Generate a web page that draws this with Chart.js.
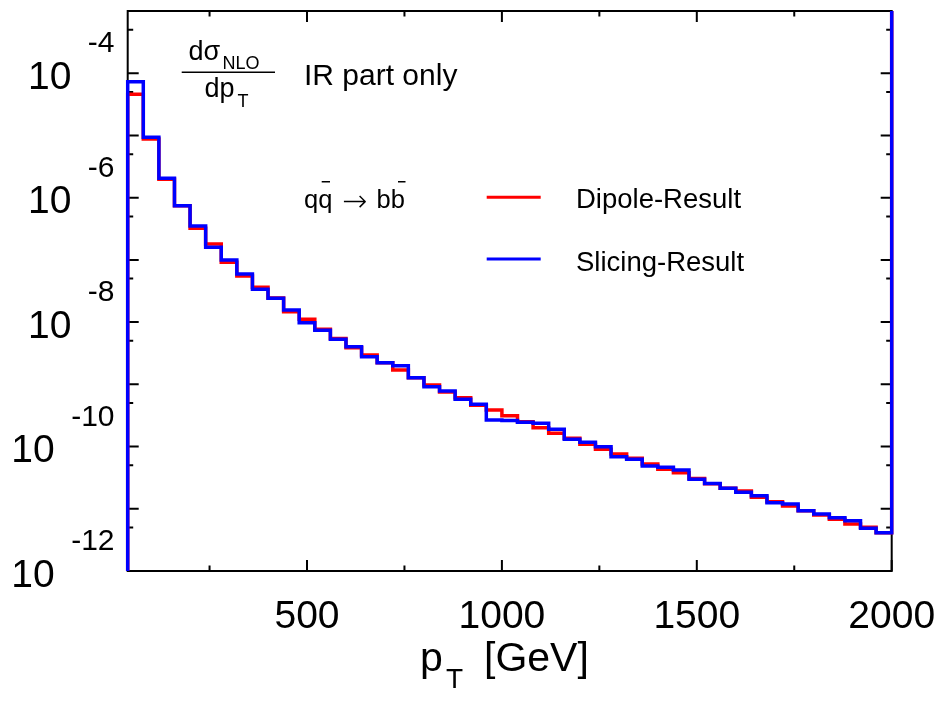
<!DOCTYPE html>
<html>
<head>
<meta charset="utf-8">
<script src="https://cdn.jsdelivr.net/npm/chart.js@4.4.1/dist/chart.umd.min.js"></script>
<style>
  body { margin: 0; background: #fff; }
</style>
</head>
<body>
<canvas id="chart" width="941" height="701"></canvas>
<script>
// Bin edges in GeV (40 GeV bins from 40 to 2000)
const pTEdges = [
  40, 80, 120, 160, 200, 240, 280, 320, 360, 400,
  440, 480, 520, 560, 600, 640, 680, 720, 760, 800,
  840, 880, 920, 960, 1000, 1040, 1080, 1120, 1160, 1200,
  1240, 1280, 1320, 1360, 1400, 1440, 1480, 1520, 1560, 1600,
  1640, 1680, 1720, 1760, 1800, 1840, 1880, 1920, 1960, 2000,
];

// dsigma/dpT per bin
const dipole = [
  4.58e-5, 8.77e-6, 1.97e-6, 7.43e-7, 3.22e-7, 1.80e-7, 9.14e-8, 5.51e-8, 3.62e-8, 2.43e-8,
  1.47e-8, 1.11e-8, 7.66e-9, 5.45e-9, 3.88e-9, 2.96e-9, 2.23e-9, 1.70e-9, 1.28e-9, 9.75e-10,
  7.53e-10, 6.10e-10, 4.60e-10, 3.87e-10, 3.13e-10, 2.51e-10, 2.01e-10, 1.63e-10, 1.36e-10, 1.09e-10,
  9.03e-11, 7.59e-11, 6.47e-11, 5.24e-11, 4.31e-11, 3.80e-11, 3.08e-11, 2.53e-11, 2.13e-11, 1.93e-11,
  1.53e-11, 1.30e-11, 1.11e-11, 9.31e-12, 7.94e-12, 6.77e-12, 5.69e-12, 5.04e-12, 4.12e-12,
];
const slicing = [
  7.31e-5, 9.33e-6, 2.05e-6, 7.43e-7, 3.51e-7, 1.59e-7, 9.96e-8, 5.93e-8, 3.37e-8, 2.41e-8,
  1.57e-8, 9.78e-9, 7.38e-9, 5.29e-9, 4.03e-9, 2.78e-9, 2.23e-9, 1.99e-9, 1.28e-9, 9.16e-10,
  7.81e-10, 5.74e-10, 4.78e-10, 2.67e-10, 2.62e-10, 2.45e-10, 2.36e-10, 1.89e-10, 1.31e-10, 1.17e-10,
  9.94e-11, 6.87e-11, 6.24e-11, 4.86e-11, 4.64e-11, 4.20e-11, 2.97e-11, 2.56e-11, 2.13e-11, 1.84e-11,
  1.62e-11, 1.25e-11, 1.19e-11, 9.31e-12, 8.24e-12, 7.18e-12, 6.43e-12, 4.85e-12, 4.12e-12,
];

// histogram walls: from below the axis at the left, up past the top at the right
const floorValue = 1e-13;
const ceilValue = 1e-2;

// Axes
const xRange = [40, 2000];
const yRange = [1e-12, 1e-3];
const xMajorTicks = [500, 1000, 1500, 2000];
const xMinorTicks = [250, 750, 1250, 1750];
const yMajorTicks = [1e-3, 1e-4, 1e-5, 1e-6, 1e-7, 1e-8, 1e-9, 1e-10, 1e-11, 1e-12];
const yMinorTicks = [5e-4, 5e-5, 5e-6, 5e-7, 5e-8, 5e-9, 5e-10, 5e-11, 5e-12];
const yLabelExps = ["-4", "-6", "-8", "-10", "-12"];

const FONT = '"Liberation Sans", Arial, Helvetica, sans-serif';

function toSteps(values) {
  const pts = [{ x: pTEdges[0], y: floorValue }];
  values.forEach((v, i) => pts.push({ x: pTEdges[i], y: v }));
  const last = pTEdges[pTEdges.length - 1];
  pts.push({ x: last, y: values[values.length - 1] });
  pts.push({ x: last, y: ceilValue });
  return pts;
}

// Frame, inward ticks, labels and annotations (gnuplot look)
const frame = {
  id: "frame",
  beforeDatasetsDraw(chart) {
    const { ctx, chartArea: a, scales: { x, y } } = chart;
    ctx.save();
    ctx.strokeStyle = "#000";
    ctx.lineWidth = 2;
    ctx.strokeRect(a.left, a.top, a.right - a.left, a.bottom - a.top);

    ctx.beginPath();
    const xTick = (v, len) => {
      const px = x.getPixelForValue(v);
      ctx.moveTo(px, a.bottom); ctx.lineTo(px, a.bottom - len);
      ctx.moveTo(px, a.top); ctx.lineTo(px, a.top + len);
    };
    const yTick = (v, len) => {
      const py = y.getPixelForValue(v);
      ctx.moveTo(a.left, py); ctx.lineTo(a.left + len, py);
      ctx.moveTo(a.right, py); ctx.lineTo(a.right - len, py);
    };
    xMajorTicks.forEach((v) => xTick(v, 11));
    xMinorTicks.forEach((v) => xTick(v, 5.5));
    yMajorTicks.forEach((v) => yTick(v, 11));
    yMinorTicks.forEach((v) => yTick(v, 5.5));
    ctx.stroke();
    ctx.restore();
  },
  afterDatasetsDraw(chart) {
    const { ctx, chartArea: a, scales: { x, y } } = chart;
    ctx.save();
    ctx.fillStyle = "#000";
    ctx.textBaseline = "alphabetic";

    // x tick labels
    ctx.font = "39px " + FONT;
    ctx.textAlign = "center";
    xMajorTicks.forEach((v) => {
      ctx.fillText(String(v), x.getPixelForValue(v), a.bottom + 56.5);
    });

    // y tick labels: 10^exp
    yLabelExps.forEach((e) => {
      const py = y.getPixelForValue(Math.pow(10, Number(e)));
      ctx.textAlign = "right";
      ctx.font = "30px " + FONT;
      const w = ctx.measureText(e).width;
      ctx.fillText(e, 114.5, py - 21);
      ctx.font = "39px " + FONT;
      ctx.fillText("10", 114.5 - w - 16.5, py + 15.5);
    });

    // x title: p_T  [GeV]
    ctx.textAlign = "left";
    ctx.font = "41px " + FONT;
    ctx.fillText("p", 420, 671);
    ctx.font = "28px " + FONT;
    ctx.fillText("T", 446, 688);
    ctx.font = "41px " + FONT;
    ctx.fillText("[GeV]", 484, 671);

    // fraction d sigma_NLO / d p_T
    ctx.font = "27px " + FONT;
    ctx.fillText("d\u03c3", 188.5, 60);
    ctx.font = "18px " + FONT;
    ctx.fillText("NLO", 222.5, 69.3);
    ctx.font = "27px " + FONT;
    ctx.fillText("dp", 204.5, 96.7);
    ctx.font = "18px " + FONT;
    ctx.fillText("T", 237.5, 107.3);
    ctx.lineWidth = 1.5;
    ctx.beginPath();
    ctx.moveTo(181.7, 72.3); ctx.lineTo(275, 72.3);
    ctx.stroke();

    ctx.font = "30px " + FONT;
    ctx.fillText("IR part only", 304, 85);

    // process q qbar -> b bbar
    ctx.font = "25.5px " + FONT;
    ctx.fillText("qq", 304, 208.3);
    ctx.fillText("bb", 376.5, 208.3);
    ctx.font = '200 30px "DejaVu Sans", sans-serif';
    ctx.fillText("\u2192", 342, 210.5);
    ctx.lineWidth = 1.5;
    ctx.beginPath();
    ctx.moveTo(321.7, 181.7); ctx.lineTo(330, 181.7);
    ctx.moveTo(398, 181.7); ctx.lineTo(405.5, 181.7);
    ctx.stroke();

    // legend
    const legend = [
      { text: "Dipole-Result", color: "#ff0000", line: 197.3, base: 208.3 },
      { text: "Slicing-Result", color: "#0000ff", line: 259, base: 271 },
    ];
    legend.forEach((l) => {
      ctx.strokeStyle = l.color;
      ctx.lineWidth = 3;
      ctx.beginPath();
      ctx.moveTo(486.7, l.line); ctx.lineTo(540.7, l.line);
      ctx.stroke();
      ctx.font = "27.5px " + FONT;
      ctx.fillText(l.text, 576, l.base);
    });
    ctx.restore();
  },
};

const lineStyle = {
  borderWidth: 3.5,
  stepped: true,
  pointRadius: 0,
  fill: false,
  borderJoinStyle: "miter",
  borderCapStyle: "butt",
  clip: { left: 3, right: 3, top: 0, bottom: 0 },
};

new Chart(document.getElementById("chart"), {
  type: "line",
  data: {
    datasets: [
      { label: "Dipole-Result", data: toSteps(dipole), borderColor: "#ff0000", order: 1, ...lineStyle },
      { label: "Slicing-Result", data: toSteps(slicing), borderColor: "#0000ff", order: 0, ...lineStyle },
    ],
  },
  options: {
    responsive: false,
    animation: false,
    events: [],
    layout: { padding: { left: 127.7, right: 49.3, top: 11, bottom: 130 } },
    plugins: { legend: { display: false }, tooltip: { enabled: false } },
    scales: {
      x: { type: "linear", min: xRange[0], max: xRange[1], display: false },
      y: { type: "logarithmic", min: yRange[0], max: yRange[1], display: false },
    },
  },
  plugins: [frame],
});
</script>
</body>
</html>
